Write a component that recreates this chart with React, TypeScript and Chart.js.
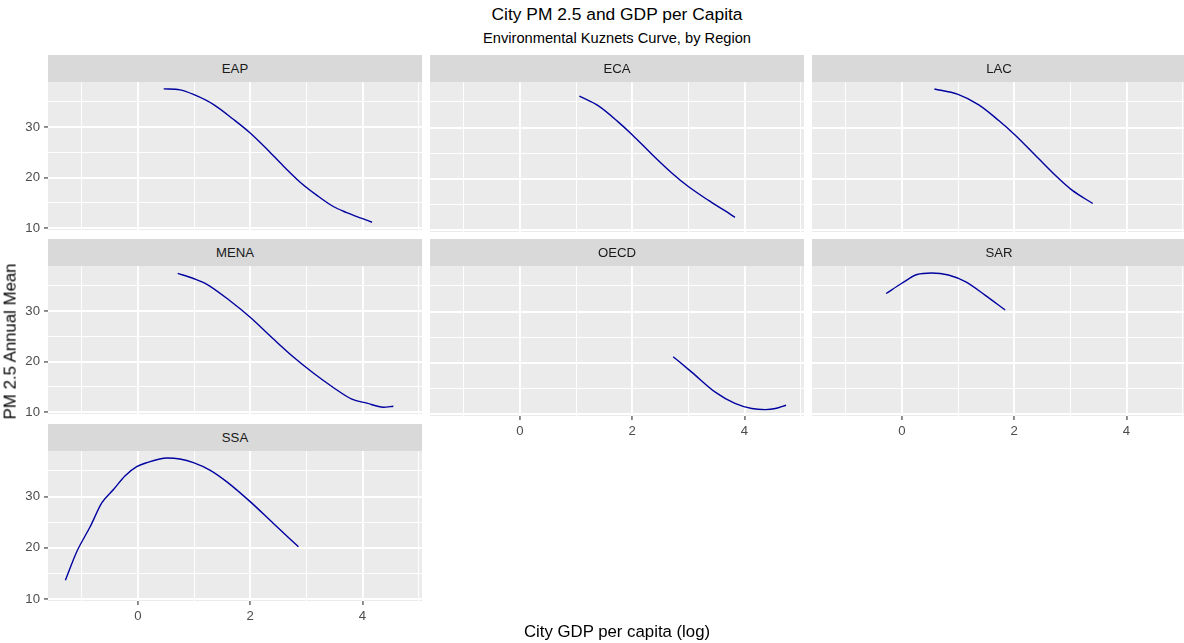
import React, { useEffect, useRef } from "react";
import { Chart, registerables } from "chart.js";

Chart.register(...registerables);

// ---------- data ----------
const EAP_X = [0.46, 0.75, 0.99, 1.35, 1.7, 2.0, 2.3, 2.59, 2.89, 3.19, 3.48, 3.72, 3.99, 4.17];
const EAP_Y = [37.5, 37.3, 36.4, 34.4, 31.5, 28.8, 25.6, 22.3, 19.1, 16.5, 14.3, 13.1, 11.95, 11.2];

const ECA_X = [1.06, 1.4, 1.75, 2.0, 2.35, 2.7, 3.0, 3.36, 3.65, 3.83];
const ECA_Y = [36.1, 34.2, 31.1, 28.6, 24.8, 21.2, 18.5, 15.8, 13.8, 12.5];

const LAC_X = [0.58, 0.99, 1.37, 1.72, 2.02, 2.43, 2.79, 3.03, 3.4];
const LAC_Y = [37.5, 36.5, 34.4, 31.4, 28.5, 24.0, 20.1, 17.8, 15.2];

const MENA_X = [0.71, 0.99, 1.23, 1.64, 2.0, 2.41, 2.77, 3.13, 3.48, 3.81, 4.08, 4.37, 4.55];
const MENA_Y = [37.4, 36.4, 35.25, 32.0, 28.75, 24.5, 20.9, 17.7, 14.9, 12.6, 11.8, 11.0, 11.2];

const OECD_X = [2.73, 3.06, 3.48, 3.83, 4.13, 4.37, 4.55, 4.74];
const OECD_Y = [21.2, 18.2, 14.3, 12.1, 11.1, 10.9, 11.1, 11.75];

const SAR_X = [-0.28, 0.0, 0.27, 0.53, 0.83, 1.13, 1.48, 1.84];
const SAR_Y = [33.5, 35.5, 37.2, 37.5, 37.1, 35.8, 33.2, 30.3];

const SSA_X = [-1.29, -1.09, -0.85, -0.64, -0.43, -0.23, -0.02, 0.16, 0.52, 0.75, 0.99, 1.29, 1.58, 2.0, 2.41, 2.86];
const SSA_Y = [13.7, 19.2, 24.1, 28.8, 31.4, 34.0, 35.8, 36.6, 37.5, 37.3, 36.6, 35.1, 32.9, 29.0, 24.8, 20.2];

const REGIONS = ["EAP", "ECA", "LAC", "MENA", "OECD", "SAR", "SSA"];
const REGION_X = [EAP_X, ECA_X, LAC_X, MENA_X, OECD_X, SAR_X, SSA_X];
const REGION_Y = [EAP_Y, ECA_Y, LAC_Y, MENA_Y, OECD_Y, SAR_Y, SSA_Y];

const X_TICKS = [-1, 0, 1, 2, 3, 4, 5];
const X_LABELS = [0, 2, 4];
const Y_TICKS = [10, 15, 20, 25, 30, 35];
const Y_LABELS = [10, 20, 30];

const TITLE = "City PM 2.5 and GDP per Capita";
const SUBTITLE = "Environmental Kuznets Curve, by Region";
const X_TITLE = "City GDP per capita (log)";
const Y_TITLE = "PM 2.5 Annual Mean";

// ---------- layout / style ----------
const X_MIN = -1.6;
const X_MAX = 5.06;
const Y_MIN = 9.65;
const Y_MAX = 38.86;

const FONT = "'Liberation Sans', Arial, Helvetica, sans-serif";
const LINE_COLOR = "#0000A0";
const AXIS_TEXT = 13.2;
const STRIP_TEXT = 13.2;
const AXIS_TITLE = 16.8;
const TITLE_SIZE = 17.4;
const SUBTITLE_SIZE = 14.67;
const PLOT_W = 374;
const PLOT_H = 150;
const STRIP_H = 27;
const COL_LEFT = [48, 430, 812];
const ROW_TOP = [82, 266, 451];

const bgPlugin = {
  id: "panelBg",
  beforeDraw(chart: any) {
    const { ctx, chartArea } = chart;
    ctx.save();
    ctx.fillStyle = "#EBEBEB";
    ctx.fillRect(chartArea.left, chartArea.top, chartArea.right - chartArea.left, chartArea.bottom - chartArea.top);
    ctx.restore();
  },
};

function Panel(props: { idx: number; col: number; row: number; showX: boolean; showY: boolean }) {
  const { idx, col, row, showX, showY } = props;
  const ref = useRef<HTMLCanvasElement>(null);
  const padL = showY ? 48 : 6;
  const padR = 6;
  const padT = 14;
  const padB = showX ? 30 : 10;
  const w = PLOT_W + padL + padR;
  const h = PLOT_H + padT + padB;

  useEffect(() => {
    const xs = REGION_X[idx];
    const ys = REGION_Y[idx];
    const chart = new Chart(ref.current as HTMLCanvasElement, {
      type: "line",
      data: {
        datasets: [
          {
            label: REGIONS[idx],
            data: xs.map((x, i) => ({ x, y: ys[i] })),
            borderColor: LINE_COLOR,
            borderWidth: 1.4,
            pointRadius: 0,
            cubicInterpolationMode: "monotone",
            fill: false,
          },
        ],
      },
      options: {
        animation: false,
        responsive: false,
        devicePixelRatio: 1,
        layout: { padding: { left: showY ? 0 : padL, right: padR, top: padT, bottom: showX ? 0 : padB } },
        plugins: { legend: { display: false }, tooltip: { enabled: false }, title: { display: false } },
        scales: {
          x: {
            type: "linear",
            min: X_MIN,
            max: X_MAX,
            afterBuildTicks: (s: any) => {
              s.ticks = X_TICKS.map((v) => ({ value: v }));
            },
            afterFit: (s: any) => {
              s.height = showX ? padB : 0;
            },
            ticks: {
              display: showX,
              autoSkip: false,
              maxRotation: 0,
              padding: 3,
              color: "#4D4D4D",
              font: { size: AXIS_TEXT, family: FONT },
              callback: (v: any) => (X_LABELS.includes(v) ? String(v) : ""),
            },
            grid: {
              color: "#FFFFFF",
              lineWidth: (c: any) => (c.tick && X_LABELS.includes(c.tick.value) ? 1.9 : 0.95),
              drawTicks: showX,
              tickLength: 4,
              tickWidth: 1.1,
              tickColor: (c: any) => (c.tick && X_LABELS.includes(c.tick.value) ? "#333333" : "rgba(0,0,0,0)"),
            },
            border: { display: false },
          },
          y: {
            type: "linear",
            min: Y_MIN,
            max: Y_MAX,
            afterBuildTicks: (s: any) => {
              s.ticks = Y_TICKS.map((v) => ({ value: v }));
            },
            afterFit: (s: any) => {
              s.width = showY ? padL : 0;
            },
            ticks: {
              display: showY,
              autoSkip: false,
              padding: 4,
              color: "#4D4D4D",
              font: { size: AXIS_TEXT, family: FONT },
              callback: (v: any) => (Y_LABELS.includes(v) ? String(v) : ""),
            },
            grid: {
              color: "#FFFFFF",
              lineWidth: (c: any) => (c.tick && Y_LABELS.includes(c.tick.value) ? 1.9 : 0.95),
              drawTicks: showY,
              tickLength: 4,
              tickWidth: 1.1,
              tickColor: (c: any) => (c.tick && Y_LABELS.includes(c.tick.value) ? "#333333" : "rgba(0,0,0,0)"),
            },
            border: { display: false },
          },
        },
      },
      plugins: [bgPlugin],
    } as any);
    return () => chart.destroy();
  }, []);

  return (
    <canvas
      ref={ref}
      width={w}
      height={h}
      style={{ position: "absolute", left: COL_LEFT[col] - padL, top: ROW_TOP[row] - padT, width: w, height: h }}
    />
  );
}

function Strip(props: { idx: number; col: number; row: number }) {
  const { idx, col, row } = props;
  return (
    <div
      style={{
        position: "absolute",
        left: COL_LEFT[col],
        top: ROW_TOP[row] - STRIP_H,
        width: PLOT_W,
        height: STRIP_H,
        background: "#D9D9D9",
        color: "#1A1A1A",
        fontFamily: FONT,
        fontSize: STRIP_TEXT,
        lineHeight: STRIP_H + 1 + "px",
        textAlign: "center",
      }}
    >
      {REGIONS[idx]}
    </div>
  );
}

export default function App() {
  const panels = REGIONS.map((_, i) => {
    const col = i % 3;
    const row = Math.floor(i / 3);
    const showY = col === 0;
    const showX = i + 3 >= REGIONS.length;
    return { i, col, row, showX, showY };
  });
  const centerX = (COL_LEFT[0] + COL_LEFT[2] + PLOT_W) / 2;
  return (
    <div
      style={{
        position: "absolute",
        left: 0,
        top: 0,
        width: 1184,
        height: 643,
        overflow: "hidden",
        background: "#FFFFFF",
        fontFamily: FONT,
      }}
    >
      {panels.map((p) => (
        <Panel key={"p" + p.i} idx={p.i} col={p.col} row={p.row} showX={p.showX} showY={p.showY} />
      ))}
      {panels.map((p) => (
        <Strip key={"s" + p.i} idx={p.i} col={p.col} row={p.row} />
      ))}
      <div
        style={{
          position: "absolute",
          left: centerX - 300,
          width: 600,
          top: 15 - TITLE_SIZE / 2,
          textAlign: "center",
          fontSize: TITLE_SIZE,
          lineHeight: TITLE_SIZE + "px",
          color: "#000",
          whiteSpace: "nowrap",
        }}
      >
        {TITLE}
      </div>
      <div
        style={{
          position: "absolute",
          left: centerX - 300,
          width: 600,
          top: 38.5 - SUBTITLE_SIZE / 2,
          textAlign: "center",
          fontSize: SUBTITLE_SIZE,
          lineHeight: SUBTITLE_SIZE + "px",
          color: "#000",
          whiteSpace: "nowrap",
        }}
      >
        {SUBTITLE}
      </div>
      <div
        style={{
          position: "absolute",
          left: centerX - 300,
          width: 600,
          top: 632 - AXIS_TITLE / 2,
          textAlign: "center",
          fontSize: AXIS_TITLE,
          lineHeight: AXIS_TITLE + "px",
          color: "#000",
          whiteSpace: "nowrap",
        }}
      >
        {X_TITLE}
      </div>
      <div
        style={{
          position: "absolute",
          left: 11 - 150,
          top: 341 - AXIS_TITLE / 2,
          width: 300,
          height: AXIS_TITLE,
          textAlign: "center",
          fontSize: AXIS_TITLE,
          lineHeight: AXIS_TITLE + "px",
          color: "#000",
          whiteSpace: "nowrap",
          transform: "rotate(-90deg)",
          transformOrigin: "50% 50%",
        }}
      >
        {Y_TITLE}
      </div>
    </div>
  );
}
